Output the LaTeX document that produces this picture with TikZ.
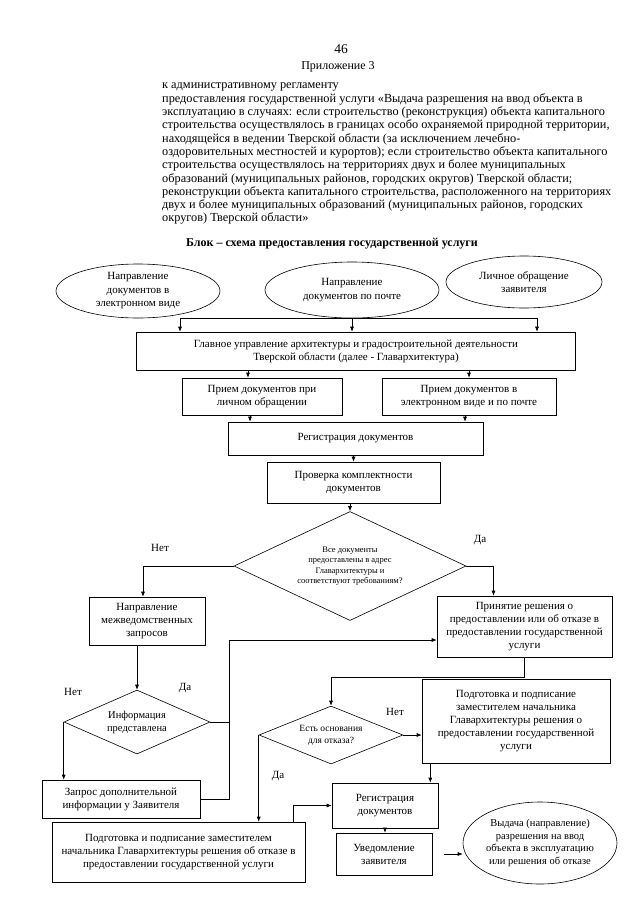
\documentclass[tikz,border=0pt]{standalone}
\usepackage{fontspec}
\setmainfont{Liberation Serif}
\usepackage{tikz}
\usetikzlibrary{arrows.meta,shapes.geometric,positioning}
\tikzstyle{arrow} = [->,>={Latex[length=5pt,width=4pt]},line width=0.6pt]
\tikzstyle{line} = [line width=0.6pt]
\tikzstyle{process} = [rectangle, draw, line width=0.6pt, align=center, inner sep=2pt, font=\fontsize{11}{13}\selectfont]
\tikzstyle{terminal} = [ellipse, draw, line width=0.6pt, align=center, inner sep=0pt, font=\fontsize{11}{13.5}\selectfont]
\tikzstyle{decision} = [diamond, draw, line width=0.6pt, align=center, inner sep=0pt, aspect=2]
\tikzstyle{answer} = [font=\fontsize{11}{12}\selectfont]

\begin{document}
\begin{tikzpicture}[x=1pt,y=-1pt]
\useasboundingbox (0,0) rectangle (640,905);

\node[font=\fontsize{13.5}{15}\selectfont] (page) at (341,49) {46};
\node[font=\fontsize{12}{13}\selectfont] (appx) at (338,67) {Приложение 3};
\node[anchor=north west, align=left, inner sep=0pt, font=\fontsize{12.3}{13.3}\selectfont] (intro) at (162,83) {к административному регламенту\\
предоставления государственной услуги «Выдача разрешения на ввод объекта в\\
эксплуатацию в случаях: если строительство (реконструкция) объекта капитального\\
строительства осуществлялось в границах особо охраняемой природной территории,\\
находящейся в ведении Тверской области (за исключением лечебно-\\
оздоровительных местностей и курортов); если строительство объекта капитального\\
строительства осуществлялось на территориях двух и более муниципальных\\
образований (муниципальных районов, городских округов) Тверской области;\\
реконструкции объекта капитального строительства, расположенного на территориях\\
двух и более муниципальных образований (муниципальных районов, городских\\
округов) Тверской области»};
\node[font=\bfseries\fontsize{12}{13}\selectfont] (title) at (332,244) {Блок – схема предоставления государственной услуги};

\node[terminal, minimum width=164, minimum height=54] (e1) at (138,291) {Направление\\документов в\\электронном виде};
\node[terminal, minimum width=174, minimum height=56] (e2) at (352,290) {Направление\\документов по почте};
\node[terminal, minimum width=156, minimum height=52] (e3) at (524,282) {Личное обращение\\заявителя};

\node[process, minimum width=439, minimum height=38] (main) at (356,351) {Главное управление архитектуры и градостроительной деятельности\\Тверской области (далее - Главархитектура)};
\node[process, minimum width=160, minimum height=37] (recA) at (262,396.5) {Прием документов при\\личном обращении};
\node[process, minimum width=174, minimum height=37] (recB) at (469,396.5) {Прием документов в\\электронном виде и по почте};
\node[process, minimum width=255, minimum height=33] (reg) at (355.5,438.5) {Регистрация документов};
\node[process, minimum width=173, minimum height=41] (check) at (353.5,482.5) {Проверка комплектности\\документов};
\node[decision, minimum width=232, minimum height=109, font=\fontsize{8.5}{10.5}\selectfont] (full) at (350,566) {Все документы\\предоставлены в адрес\\Главархитектуры и\\соответствуют требованиям?};

\node[process, minimum width=116, minimum height=48] (inter) at (147,621) {Направление\\межведомственных\\запросов};
\node[process, minimum width=175, minimum height=61] (decide) at (524.5,626.5) {Принятие решения о\\предоставлении или об отказе в\\предоставлении государственной\\услуги};
\node[decision, minimum width=146, minimum height=64, font=\fontsize{10.5}{13}\selectfont] (info) at (137,722) {Информация\\представлена};
\node[process, minimum width=158, minimum height=38] (extra) at (121,799) {Запрос дополнительной\\информации у Заявителя};

\node[decision, minimum width=144, minimum height=58, font=\fontsize{9.5}{12}\selectfont] (refuse) at (331,735) {Есть основания\\для отказа?};
\node[process, minimum width=188, minimum height=84] (grant) at (516,721) {Подготовка и подписание\\заместителем начальника\\Главархитектуры решения о\\предоставлении государственной\\услуги};
\node[process, minimum width=253, minimum height=60] (deny) at (178.5,852) {Подготовка и подписание заместителем\\начальника Главархитектуры решения об отказе в\\предоставлении государственной услуги};
\node[process, minimum width=106, minimum height=45] (reg2) at (385,805.5) {Регистрация\\документов};
\node[process, minimum width=96, minimum height=42] (notify) at (384,854) {Уведомление\\заявителя};
\node[terminal, minimum width=154, minimum height=82, font=\fontsize{10.5}{12.5}\selectfont] (issue) at (540,843) {Выдача (направление)\\разрешения на ввод\\объекта в эксплуатацию\\или решения об отказе};

\node[answer] (no1) at (160,548) {Нет};
\node[answer] (yes1) at (480,540) {Да};
\node[answer] (no2) at (73,692) {Нет};
\node[answer] (yes2) at (185,688) {Да};
\node[answer] (no3) at (395,712) {Нет};
\node[answer] (yes3) at (278,776) {Да};

\coordinate (bus1) at (180,318);
\coordinate (bus3) at (537,318);
\coordinate (a-in) at ([xshift=-14pt]recA.north);
\coordinate (a-out) at ([xshift=-12pt]recA.south);
\coordinate (b-out) at ([xshift=-4pt]recB.south);
\coordinate (f-in) at ([xshift=-31pt]decide.north);
\coordinate (loop) at (229,640);
\coordinate (d-out) at ([xshift=-12pt]deny.north east);
\coordinate (j-in) at ([xshift=-8pt]reg2.north east);
\coordinate (k-out) at ([xshift=12pt]notify.east);

\draw[line] (bus1) -- (bus3);
\draw[arrow] (bus1) -- (bus1 |- main.north);
\draw[arrow] (e2.south |- bus1) -- (e2.south |- main.north);
\draw[arrow] (bus3) -- (bus3 |- main.north);
\draw[arrow] (a-in |- main.south) -- (a-in);
\draw[arrow] (recB.north |- main.south) -- (recB.north);
\draw[arrow] (a-out) -- (a-out |- reg.north);
\draw[arrow] (b-out) -- (b-out |- reg.north);
\draw[arrow] (reg.south -| check.north) -- (check.north);
\draw[arrow] (full.north |- check.south) -- (full.north);
\draw[arrow] (full.west) -| ([xshift=-4pt]inter.north);
\draw[arrow] (full.east) -| (f-in);
\draw[arrow] (inter.south -| info.north) -- (info.north);
\draw[arrow] (info.west) -- (info.west |- extra.north);
\draw[line] (info.east) -- (info.east -| loop);
\draw[arrow] (extra.east) -| (loop) -- (loop -| decide.west);
\draw[arrow] (decide.south) -- ++(0,20) -| (refuse.north);
\draw[arrow] (refuse.east) -- (refuse.east -| grant.west);
\draw[arrow] (refuse.west) -- (refuse.west |- deny.north);
\draw[arrow] (d-out) |- (reg2.west);
\draw[arrow] (j-in |- grant.south) -- (j-in);
\draw[arrow] (reg2.south) -- (reg2.south |- notify.north);
\draw[arrow] (k-out) -- (k-out -| issue.west);
\end{tikzpicture}
\end{document}
